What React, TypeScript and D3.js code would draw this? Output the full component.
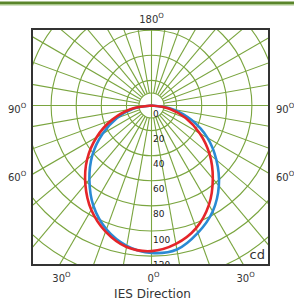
import React from "react";
import * as d3 from "d3";

// gamma angles (0 = straight down), candela per side
const gammas = [0, 10, 20, 30, 40, 50, 60, 70, 80, 90];
const redLeft = [116, 114.5, 107, 96, 82, 67, 50.5, 33.5, 17, 0];
const redRight = [116, 112, 104, 91.5, 76, 60.5, 44.5, 29, 14.5, 0];
const blueLeft = [117.5, 113.5, 105, 92.5, 77, 61.5, 45, 29.5, 15, 0];
const blueRight = [117.5, 116.5, 108, 97.5, 83.5, 67.5, 51.5, 34, 17, 0];

const ringValues = [20, 40, 60, 80, 100, 120, 140, 160];
const ringLabels = [0, 20, 40, 60, 80, 100, 120];
const spokeAngles = d3.range(0, 360, 10);
const sideLabels = [90, 60];
const bottomLabels = [30, 0, 30];

const W = 294;
const H = 301;
const box = { x: 32, y: 29, w: 237, h: 236 };
const cx = 151.5;
const cy = 105.5;
const grid = "#7aa53f";
const txt = "#333";
const font = "DejaVu Sans, Verdana, sans-serif";

const App = () => {
  const r = d3.scaleLinear().domain([0, 20]).range([0, 25.1]);

  const curvePath = (left: number[], right: number[]) => {
    const pts: [number, number][] = [];
    for (let i = gammas.length - 1; i >= 0; i--)
      pts.push([Math.PI - (gammas[i] * Math.PI) / 180, r(right[i])]);
    for (let i = 1; i < gammas.length; i++)
      pts.push([Math.PI + (gammas[i] * Math.PI) / 180, r(left[i])]);
    return d3
      .lineRadial()
      .angle((d) => d[0])
      .radius((d) => d[1])
      .curve(d3.curveCatmullRom)(pts) as string;
  };

  const deg = (v: number | string) => (
    <>
      {v}
      <tspan fontSize={7} dy={-5}>
        O
      </tspan>
    </>
  );

  const hitY = (g: number) =>
    cy + (cx - box.x) / Math.tan((g * Math.PI) / 180);
  const hitX = (g: number, side: number) =>
    cx + side * (box.y + box.h - cy) * Math.tan((g * Math.PI) / 180);

  return (
    <svg width={W} height={H} style={{ position: "absolute", left: 0, top: 0 }}>
      <rect x={0} y={1.5} width={W} height={2.5} fill="#5a852b" />
      <rect x={0} y={4} width={W} height={1.5} fill="#a9c68b" />
      <defs>
        <clipPath id="bx">
          <rect x={box.x} y={box.y} width={box.w} height={box.h} />
        </clipPath>
      </defs>
      <rect x={box.x} y={box.y} width={box.w} height={box.h} fill="#fff" />
      <g clipPath="url(#bx)">
        <g transform={`translate(${cx},${cy})`} stroke={grid} strokeWidth={1.1} fill="none">
          <circle r={r(10)} />
          {ringValues.map((v) => (
            <circle key={v} r={r(v)} />
          ))}
          {spokeAngles.map((a) => {
            const t = (a * Math.PI) / 180;
            const r0 = a % 90 === 0 ? 0 : r(10);
            return (
              <line
                key={a}
                x1={Math.sin(t) * r0}
                y1={-Math.cos(t) * r0}
                x2={Math.sin(t) * r(200)}
                y2={-Math.cos(t) * r(200)}
              />
            );
          })}
        </g>
        <g transform={`translate(${cx},${cy})`} fill="none" strokeWidth={2.6}>
          <path d={curvePath(blueLeft, blueRight)} stroke="#2a8ad4" />
          <path d={curvePath(redLeft, redRight)} stroke="#e5252a" />
        </g>
        <g fontFamily={font} fontSize={9} fill="#222">
          {ringLabels.map((v) => (
            <text key={v} x={cx + 1.5} y={cy + r(v) + 9} dominantBaseline="middle">
              {v}
            </text>
          ))}
        </g>
        <text x={box.x + box.w - 4} y={box.y + box.h - 6} textAnchor="end" fontFamily={font} fontSize={13} fill={txt}>
          cd
        </text>
      </g>
      <rect x={box.x} y={box.y} width={box.w} height={box.h} fill="none" stroke="#333" strokeWidth={2} />
      <g fontFamily={font} fontSize={10} fill={txt}>
        <text x={cx} y={23} textAnchor="middle">
          {deg(180)}
        </text>
        {sideLabels.map((g) => (
          <React.Fragment key={g}>
            <text x={8} y={hitY(g) + 7}>{deg(g)}</text>
            <text x={276} y={hitY(g) + 7}>{deg(g)}</text>
          </React.Fragment>
        ))}
        {bottomLabels.map((g, i) => (
          <text key={i} x={hitX(g, i - 1) + 2} y={282} textAnchor="middle">
            {deg(g)}
          </text>
        ))}
        <text x={cx + 1} y={298} textAnchor="middle" fontSize={12}>
          IES Direction
        </text>
      </g>
    </svg>
  );
};

export default App;
